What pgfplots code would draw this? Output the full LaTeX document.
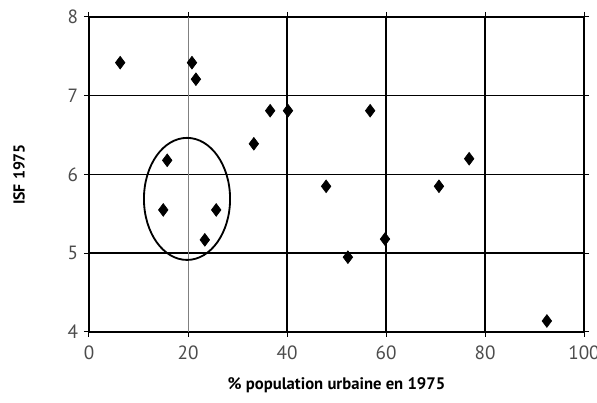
\documentclass[border=0pt]{standalone}
\usepackage{pgfplots}
\pgfplotsset{compat=1.18}
\usepackage{fontspec}
\setmainfont{PT Sans}

\begin{document}
\begin{tikzpicture}
\begin{axis}[
    name=a,
    scale only axis,
    width=297pt, height=189pt,
    xmin=0, xmax=100, ymin=4, ymax=8,
    xtick={0,40,60,80,100},
    extra x ticks={20},
    extra x tick style={grid=major, major grid style={black!50, line width=0.6pt}},
    ytick={4,5,6,7,8},
    grid=major,
    major grid style={black, line width=0.9pt},
    axis line style={black, line width=0.9pt},
    tick style={black, line width=0.6pt},
    tick align=outside,
    major tick length=3pt,
    /pgf/number format/assume math mode=true,
    tick label style={font=\fontsize{11.5}{13}\selectfont, color=black!70},
    xticklabel style={yshift=-2pt},
    xlabel={\% population urbaine en 1975},
    ylabel={ISF 1975},
    xlabel style={font=\bfseries\fontsize{10}{12}\selectfont, at={(axis description cs:0.5,0)}, anchor=center, yshift=-32pt},
    ylabel style={font=\bfseries\fontsize{9.5}{11}\selectfont, at={(axis description cs:0,0.5)}, anchor=center, yshift=42pt},
]
\addplot[only marks, mark=diamond*, mark size=3.8pt, black] coordinates {
    (6.3,7.42)
    (20.8,7.42)
    (21.6,7.21)
    (36.6,6.81)
    (40.2,6.81)
    (33.3,6.39)
    (15.8,6.18)
    (15.0,5.55)
    (25.7,5.55)
    (23.4,5.17)
    (56.8,6.81)
    (76.8,6.20)
    (47.9,5.85)
    (70.7,5.85)
    (52.3,4.95)
    (59.8,5.18)
    (92.5,4.14)
};
\draw[black, line width=1.1pt] (axis cs:19.8,5.69) ellipse [x radius=8.7, y radius=0.775];
\end{axis}
\pgfresetboundingbox
\path[use as bounding box] ([shift={(-53.4pt,-42.6pt)}]a.south west) rectangle ([shift={(7.8pt,10.2pt)}]a.north east);
\end{tikzpicture}
\end{document}
